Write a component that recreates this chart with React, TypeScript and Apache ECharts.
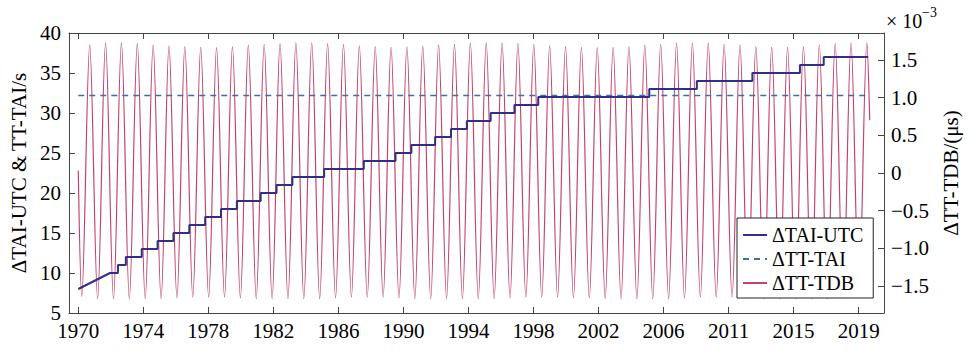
import React, { useEffect, useRef } from 'react';
import * as echarts from 'echarts';

const FONT = "'Liberation Serif', 'DejaVu Serif', serif";

// X axis tick positions (years) and their printed labels are floor(value)
const xTickValues = [1970, 1974.1, 1978.2, 1982.3, 1986.4, 1990.5, 1994.6, 1998.7, 2002.8, 2006.9, 2011.0, 2015.1, 2019.2];
const rightTickValues = [-1.5, -1.0, -0.5, 0, 0.5, 1.0, 1.5];

// ΔTAI-UTC (s): initial ramp, then leap-second steps
const taiUtcRamp: [number, number][] = [[1970.0, 8.0], [1972.0, 10.0]];
const leapDates = [1972.5, 1973.0, 1974.0, 1975.0, 1976.0, 1977.0, 1978.0, 1979.0, 1980.0, 1981.5, 1982.5, 1983.5, 1985.5, 1988.0, 1990.0, 1991.0, 1992.5, 1993.5, 1994.5, 1996.0, 1997.5, 1999.0, 2006.0, 2009.0, 2012.5, 2015.5, 2017.0];
const leapValues = [11, 12, 13, 14, 15, 16, 17, 18, 19, 20, 21, 22, 23, 24, 25, 26, 27, 28, 29, 30, 31, 32, 33, 34, 35, 36, 37];
const taiUtcEnd = 2019.8;

// ΔTT-TAI (s)
const ttTaiValue = 32.184;
const ttTaiSpan = [1970.0, 2019.8];

// ΔTT-TDB (×10^-3): yearly troughs and peaks, 1970..2019
const tdbYears = [1970, 1971, 1972, 1973, 1974, 1975, 1976, 1977, 1978, 1979, 1980, 1981, 1982, 1983, 1984, 1985, 1986, 1987, 1988, 1989, 1990, 1991, 1992, 1993, 1994, 1995, 1996, 1997, 1998, 1999, 2000, 2001, 2002, 2003, 2004, 2005, 2006, 2007, 2008, 2009, 2010, 2011, 2012, 2013, 2014, 2015, 2016, 2017, 2018, 2019];
const tdbTroughs = [-1.64, -1.67, -1.67, -1.67, -1.67, -1.67, -1.66, -1.65, -1.65, -1.65, -1.66, -1.67, -1.67, -1.67, -1.67, -1.67, -1.66, -1.65, -1.65, -1.65, -1.66, -1.67, -1.67, -1.67, -1.67, -1.67, -1.67, -1.66, -1.65, -1.65, -1.65, -1.66, -1.66, -1.67, -1.67, -1.67, -1.67, -1.67, -1.66, -1.65, -1.65, -1.65, -1.66, -1.67, -1.67, -1.67, -1.67, -1.67, -1.66, -1.65];
const tdbPeaks = [1.70, 1.73, 1.73, 1.72, 1.70, 1.69, 1.68, 1.67, 1.665, 1.68, 1.70, 1.71, 1.72, 1.73, 1.73, 1.72, 1.71, 1.69, 1.68, 1.67, 1.675, 1.685, 1.70, 1.71, 1.73, 1.73, 1.73, 1.72, 1.71, 1.69, 1.68, 1.67, 1.665, 1.67, 1.68, 1.70, 1.71, 1.725, 1.73, 1.73, 1.71, 1.70, 1.68, 1.67, 1.67, 1.68, 1.70, 1.72, 1.725, 1.73];
const tdbTroughPhase = 0.22;
const tdbPeakPhase = 0.72;
const tdbStart: [number, number] = [1970.0, 0.03];
const tdbEnd: [number, number] = [2019.9, 0.7];

function buildTaiUtc(): [number, number][] {
  const pts: [number, number][] = taiUtcRamp.map((p) => [p[0], p[1]]);
  let prev = taiUtcRamp[taiUtcRamp.length - 1][1];
  leapDates.forEach((d, i) => {
    pts.push([d, prev]);
    pts.push([d, leapValues[i]]);
    prev = leapValues[i];
  });
  pts.push([taiUtcEnd, prev]);
  return pts;
}

function buildTdb(): [number, number][] {
  const pts: [number, number][] = [tdbStart];
  tdbYears.forEach((y, i) => {
    pts.push([y + tdbTroughPhase, tdbTroughs[i]]);
    pts.push([y + tdbPeakPhase, tdbPeaks[i]]);
  });
  pts.push(tdbEnd);
  return pts;
}

export default function App() {
  const ref = useRef<HTMLDivElement>(null);
  useEffect(() => {
    document.body.style.margin = '0';
    if (!ref.current) return;
    const chart = echarts.init(ref.current, null, { renderer: 'svg' });
    const axisColor = '#444';
    const FS = 21;
    const labelStyle = { color: '#000', fontFamily: FONT, fontSize: FS };
    const xMin = 1969.415;
    const xMax = 2020.8;
    chart.setOption({
      animation: false,
      textStyle: { fontFamily: FONT },
      grid: { left: 63, right: 80, top: 33, bottom: 41, containLabel: false },
      legend: {
        orient: 'vertical',
        left: 737,
        top: 218,
        padding: [7, 10, 5, 5],
        itemGap: 4,
        itemWidth: 24,
        itemHeight: 14,
        backgroundColor: '#fff',
        borderColor: '#222',
        borderWidth: 1,
        borderRadius: 0,
        itemStyle: { opacity: 0 },
        textStyle: { color: '#000', fontFamily: FONT, fontSize: 20 },
        data: ['ΔTAI-UTC', 'ΔTT-TAI', 'ΔTT-TDB'],
      },
      xAxis: [
        {
          type: 'value',
          min: xMin,
          max: xMax,
          position: 'bottom',
          axisLine: { show: true, onZero: false, lineStyle: { color: axisColor, width: 1 } },
          axisTick: { show: true, inside: true, length: 6, customValues: xTickValues, lineStyle: { color: axisColor } },
          axisLabel: {
            show: true,
            customValues: xTickValues,
            margin: 7,
            formatter: (v: number) => String(Math.floor(v + 1e-6)),
            ...labelStyle,
          },
          splitLine: { show: false },
        },
        {
          type: 'value',
          min: xMin,
          max: xMax,
          position: 'top',
          axisLine: { show: true, onZero: false, lineStyle: { color: axisColor, width: 1 } },
          axisTick: { show: true, inside: true, length: 6, customValues: xTickValues, lineStyle: { color: axisColor } },
          axisLabel: { show: false },
          splitLine: { show: false },
        },
      ],
      yAxis: [
        {
          type: 'value',
          min: 5,
          max: 40,
          interval: 5,
          position: 'left',
          name: 'ΔTAI-UTC & TT-TAI/s',
          nameLocation: 'middle',
          nameGap: 40,
          nameRotate: 90,
          nameTextStyle: { color: '#000', fontFamily: FONT, fontSize: FS },
          axisLine: { show: true, onZero: false, lineStyle: { color: axisColor, width: 1 } },
          axisTick: { show: true, inside: true, length: 6, lineStyle: { color: axisColor } },
          axisLabel: { margin: 8, ...labelStyle },
          splitLine: { show: false },
        },
        {
          type: 'value',
          min: -1.86,
          max: 1.86,
          position: 'right',
          name: 'ΔTT-TDB/(μs)',
          nameLocation: 'middle',
          nameGap: 55,
          nameRotate: 90,
          nameTextStyle: { color: '#000', fontFamily: FONT, fontSize: FS },
          axisLine: { show: true, onZero: false, lineStyle: { color: axisColor, width: 1 } },
          axisTick: { show: true, inside: true, length: 6, customValues: rightTickValues, lineStyle: { color: axisColor } },
          axisLabel: {
            margin: 7,
            customValues: rightTickValues,
            formatter: (v: number) => (Math.abs(v) < 1e-9 ? '0' : v.toFixed(1).replace('-', '−')),
            ...labelStyle,
          },
          splitLine: { show: false },
        },
      ],
      graphic: [
        { type: 'text', left: 886, top: 11, style: { text: '× 10', fill: '#000', font: `20px ${FONT}` } },
        { type: 'text', left: 922, top: 5, style: { text: '−3', fill: '#000', font: `14px ${FONT}` } },
      ],
      series: [
        {
          name: 'ΔTT-TDB',
          type: 'line',
          xAxisIndex: 0,
          yAxisIndex: 1,
          data: buildTdb(),
          smooth: 0.35,
          symbol: 'none',
          lineStyle: { color: '#C4426C', width: 1.2 },
          itemStyle: { color: '#C4426C' },
          z: 2,
        },
        {
          name: 'ΔTT-TAI',
          type: 'line',
          xAxisIndex: 0,
          yAxisIndex: 0,
          data: ttTaiSpan.map((x) => [x, ttTaiValue]),
          symbol: 'none',
          lineStyle: { color: '#3B70A2', width: 1.5, type: [6, 5] },
          itemStyle: { color: '#3B70A2' },
          z: 3,
        },
        {
          name: 'ΔTAI-UTC',
          type: 'line',
          xAxisIndex: 0,
          yAxisIndex: 0,
          data: buildTaiUtc(),
          symbol: 'none',
          lineStyle: { color: '#2E2F8C', width: 2 },
          itemStyle: { color: '#2E2F8C' },
          z: 4,
        },
      ],
    });
    return () => chart.dispose();
  }, []);
  return <div ref={ref} style={{ width: 969, height: 354 }} />;
}
